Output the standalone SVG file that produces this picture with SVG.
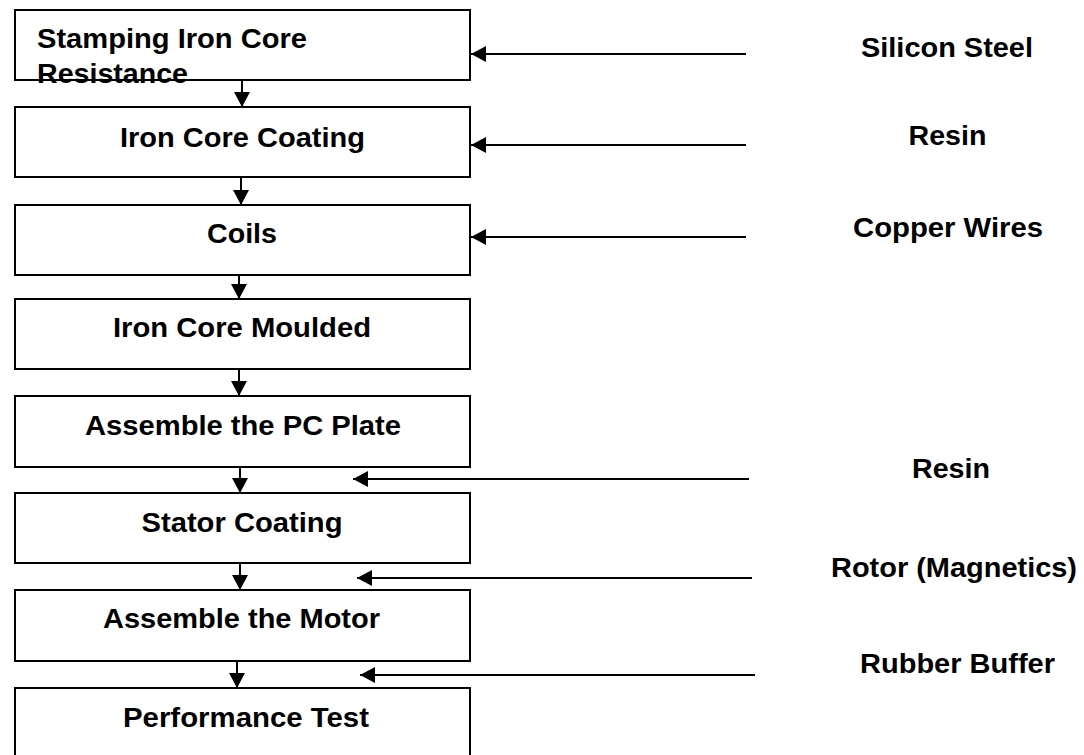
<svg xmlns="http://www.w3.org/2000/svg" width="1084" height="755" viewBox="0 0 1084 755">
<defs>
<marker id="ah" viewBox="0 0 15 16" refX="15" refY="8" markerWidth="15" markerHeight="16" markerUnits="userSpaceOnUse" orient="auto">
<path d="M0,0 L15,8 L0,16 z" fill="#000"/>
</marker>
<style>
.box{fill:#fff;stroke:#000;stroke-width:2}
.t{font-family:"Liberation Sans",Arial,sans-serif;font-weight:bold;font-size:27px;fill:#000}
.c{text-anchor:middle}
.ln{stroke:#000;stroke-width:2;fill:none;marker-end:url(#ah)}
</style>
</defs>
<rect width="1084" height="755" fill="#fff"/>
<g id="n1"><rect class="box" x="15" y="10" width="455" height="70"/><text class="t" x="37" y="48" textLength="270" lengthAdjust="spacingAndGlyphs">Stamping Iron Core</text><text class="t" x="37" y="83" textLength="151" lengthAdjust="spacingAndGlyphs">Resistance</text></g>
<g id="n2"><rect class="box" x="15" y="107" width="455" height="70"/><text class="t c" x="242.5" y="147" textLength="245" lengthAdjust="spacingAndGlyphs">Iron Core Coating</text></g>
<g id="n3"><rect class="box" x="15" y="205" width="455" height="70"/><text class="t c" x="242" y="243" textLength="70" lengthAdjust="spacingAndGlyphs">Coils</text></g>
<g id="n4"><rect class="box" x="15" y="299" width="455" height="70"/><text class="t c" x="242" y="337" textLength="258" lengthAdjust="spacingAndGlyphs">Iron Core Moulded</text></g>
<g id="n5"><rect class="box" x="15" y="396" width="455" height="71"/><text class="t c" x="243" y="435" textLength="316" lengthAdjust="spacingAndGlyphs">Assemble the PC Plate</text></g>
<g id="n6"><rect class="box" x="15" y="493" width="455" height="70"/><text class="t c" x="242" y="532" textLength="201" lengthAdjust="spacingAndGlyphs">Stator Coating</text></g>
<g id="n7"><rect class="box" x="15" y="590" width="455" height="71"/><text class="t c" x="241.5" y="628" textLength="277" lengthAdjust="spacingAndGlyphs">Assemble the Motor</text></g>
<g id="n8"><rect class="box" x="15" y="688" width="455" height="70"/><text class="t c" x="246" y="727" textLength="246" lengthAdjust="spacingAndGlyphs">Performance Test</text></g>
<g id="m1"><text class="t c" x="947" y="57" textLength="172" lengthAdjust="spacingAndGlyphs">Silicon Steel</text></g>
<g id="m2"><text class="t c" x="947.5" y="145" textLength="78" lengthAdjust="spacingAndGlyphs">Resin</text></g>
<g id="m3"><text class="t c" x="948" y="237" textLength="190" lengthAdjust="spacingAndGlyphs">Copper Wires</text></g>
<g id="m4"><text class="t c" x="951" y="478" textLength="78" lengthAdjust="spacingAndGlyphs">Resin</text></g>
<g id="m5"><text class="t c" x="954" y="577" textLength="246" lengthAdjust="spacingAndGlyphs">Rotor (Magnetics)</text></g>
<g id="m6"><text class="t c" x="957.5" y="673" textLength="195" lengthAdjust="spacingAndGlyphs">Rubber Buffer</text></g>
<g id="connectors">
<line class="ln" x1="242" y1="80" x2="242" y2="107"/>
<line class="ln" x1="241" y1="177" x2="241" y2="205"/>
<line class="ln" x1="239" y1="275" x2="239" y2="299"/>
<line class="ln" x1="239" y1="369" x2="239" y2="396"/>
<line class="ln" x1="240" y1="467" x2="240" y2="493"/>
<line class="ln" x1="240" y1="563" x2="240" y2="590"/>
<line class="ln" x1="237" y1="661" x2="237" y2="688"/>
<line class="ln" x1="746" y1="54" x2="471" y2="54"/>
<line class="ln" x1="746" y1="145" x2="471" y2="145"/>
<line class="ln" x1="746" y1="237" x2="471" y2="237"/>
<line class="ln" x1="749" y1="479" x2="353" y2="479"/>
<line class="ln" x1="752" y1="578" x2="357" y2="578"/>
<line class="ln" x1="755" y1="675" x2="360" y2="675"/>
</g>
</svg>
